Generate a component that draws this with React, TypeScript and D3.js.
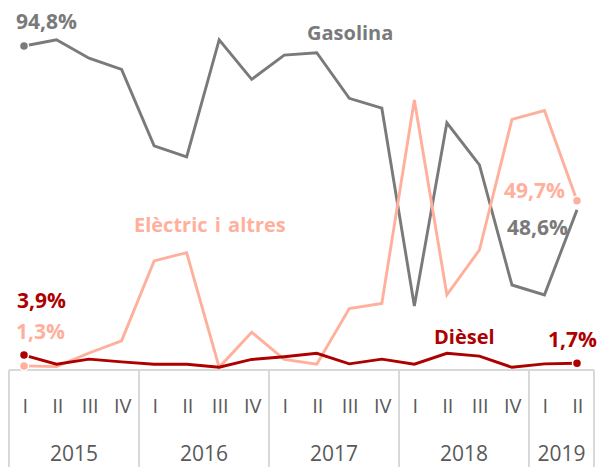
import React from "react";
import * as d3 from "d3";

const years = ["2015", "2016", "2017", "2018", "2019"];
const quartersPerYear = [4, 4, 4, 4, 2];
const quarterNames = ["I", "II", "III", "IV"];

const gasolina = [95.3, 97.1, 91.7, 88.4, 65.9, 62.7, 97.1, 85.5, 92.6, 93.3, 79.9, 77.0, 18.8, 72.7, 60.3, 25.0, 22.1, 47.1];
const electric = [1.2, 1.0, 5.0, 8.6, 32.1, 34.5, 0.8, 11.1, 3.1, 1.7, 18.1, 19.6, 79.4, 22.1, 35.3, 73.7, 76.3, 49.8];
const diesel = [4.4, 1.7, 3.2, 2.4, 1.7, 1.7, 0.8, 3.1, 3.9, 4.9, 1.8, 3.2, 1.7, 4.9, 4.1, 0.8, 1.8, 2.0];

const periods: { id: string; year: string; q: string }[] = [];
years.forEach((y, i) => {
  for (let k = 0; k < quartersPerYear[i]; k++) {
    periods.push({ id: `${y}-${quarterNames[k]}`, year: y, q: quarterNames[k] });
  }
});

const W = 597;
const H = 467;
const GRAY = "#7a7a7a";
const SALMON = "#ffb09c";
const RED = "#ad0000";
const AXIS = "#d9d9d9";
const FONT = "'Open Sans', sans-serif";

export default function App() {
  const ids = periods.map((p) => p.id);
  const xBand = d3.scaleBand<string>().domain(ids).range([9, 594]);
  const x = d3.scalePoint<string>().domain(ids).range([24, 577]);
  const y = d3.scaleLinear().domain([0, 100]).range([370, 30]);

  const line = d3
    .line<number>()
    .x((_, i) => x(ids[i]) as number)
    .y((d) => y(d));

  const series = [
    { data: gasolina, color: GRAY, startDot: true, endDot: false },
    { data: electric, color: SALMON, startDot: true, endDot: true },
    { data: diesel, color: RED, startDot: true, endDot: true },
  ];

  const yearGroups: { year: string; x0: number; x1: number }[] = [];
  let idx = 0;
  years.forEach((yr, i) => {
    const first = ids[idx];
    const last = ids[idx + quartersPerYear[i] - 1];
    yearGroups.push({
      year: yr,
      x0: xBand(first) as number,
      x1: (xBand(last) as number) + xBand.bandwidth(),
    });
    idx += quartersPerYear[i];
  });

  const axisTop = 370;

  return (
    <svg
      width={W}
      height={H}
      style={{ position: "absolute", left: 0, top: 0, background: "#fff" }}
      fontFamily={FONT}
    >
      <line x1={9} x2={594} y1={axisTop} y2={axisTop} stroke={AXIS} strokeWidth={2} />
      {yearGroups.map((g, i) => (
        <line key={"s" + i} x1={g.x0} x2={g.x0} y1={axisTop} y2={H} stroke={AXIS} strokeWidth={2} />
      ))}
      <line x1={594} x2={594} y1={axisTop} y2={H} stroke={AXIS} strokeWidth={2} />
      {periods.map((p) => (
        <text
          key={p.id}
          x={(xBand(p.id) as number) + xBand.bandwidth() / 2}
          y={413}
          textAnchor="middle"
          fontSize={20}
          fill="#595959"
        >
          {p.q}
        </text>
      ))}
      {yearGroups.map((g) => (
        <text key={g.year} x={(g.x0 + g.x1) / 2} y={461} textAnchor="middle" fontSize={21} fill="#595959">
          {g.year}
        </text>
      ))}

      {series.map((s, i) => (
        <path key={"l" + i} d={line(s.data) || ""} fill="none" stroke={s.color} strokeWidth={2.9} strokeLinejoin="miter" />
      ))}
      {series.map((s, i) => (
        <g key={"d" + i}>
          {s.startDot && (
            <circle cx={x(ids[0]) as number} cy={y(s.data[0])} r={4.5} fill={s.color} stroke="#fff" strokeWidth={1.5} />
          )}
          {s.endDot && (
            <circle
              cx={x(ids[ids.length - 1]) as number}
              cy={y(s.data[s.data.length - 1])}
              r={4.5}
              fill={s.color}
              stroke="#fff"
              strokeWidth={1.5}
            />
          )}
        </g>
      ))}

      <g fontWeight="bold">
        <text x={16} y={29} fontSize={21} fill={GRAY}>94,8%</text>
        <text x={307} y={40} fontSize={20} fill={GRAY}>Gasolina</text>
        <text x={134} y={232} fontSize={20} fill={SALMON} style={{ wordSpacing: 2 }}>Elèctric i altres</text>
        <text x={17} y={308} fontSize={21} fill={RED}>3,9%</text>
        <text x={16} y={339} fontSize={21} fill={SALMON}>1,3%</text>
        <text x={504} y={198} fontSize={21} fill={SALMON}>49,7%</text>
        <text x={507} y={235} fontSize={21} fill={GRAY}>48,6%</text>
        <text x={434} y={344} fontSize={20} fill={RED}>Dièsel</text>
        <text x={548} y={347} fontSize={21} fill={RED}>1,7%</text>
      </g>
    </svg>
  );
}
